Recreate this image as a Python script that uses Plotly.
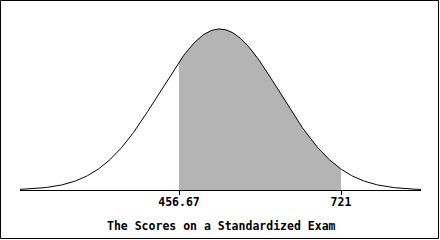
import numpy as np
import plotly.graph_objects as go

# Distribution parameters
mean_score = 523.0
sd_score = 98.0
x_min, x_max = 197.25, 851.5
shade_low, shade_high = 456.67, 721.0
tick_values = [456.67, 721]
tick_labels = ["456.67", "721"]
title_text = "The Scores on a Standardized Exam"

def pdf(v):
    return np.exp(-0.5 * ((v - mean_score) / sd_score) ** 2) / (sd_score * np.sqrt(2 * np.pi))

xs = np.linspace(x_min, x_max, 400)
ys = pdf(xs)
xs_shade = np.linspace(shade_low, shade_high, 200)
ys_shade = pdf(xs_shade)
peak = pdf(mean_score)

L, R, T, B = 20, 19, 20, 50
W, H = 440, 240
pw = W - L - R
ph = H - T - B

fig = go.Figure()
fig.add_trace(go.Scatter(x=xs_shade, y=ys_shade, fill="tozeroy", mode="lines",
                         line=dict(width=0, color="#b4b4b4"), fillcolor="#b4b4b4",
                         hoverinfo="skip", showlegend=False))
fig.add_trace(go.Scatter(x=xs, y=ys, mode="lines", line=dict(width=1, color="black"),
                         hoverinfo="skip", showlegend=False))

font = dict(family="DejaVu Sans Mono", size=11.5, color="black")

fig.update_layout(
    width=W, height=H,
    margin=dict(l=L, r=R, t=T, b=B),
    paper_bgcolor="white", plot_bgcolor="white",
    xaxis=dict(range=[x_min, x_max], showgrid=False, zeroline=False,
               showline=True, linecolor="black", linewidth=1,
               tickmode="array", tickvals=tick_values, ticktext=["<b>%s</b>" % t for t in tick_labels],
               ticks="outside", ticklen=4, tickcolor="black", tickwidth=1,
               ticklabelstandoff=-3,
               tickfont=font),
    yaxis=dict(range=[0, peak * ph / 161.0], visible=False, showgrid=False, zeroline=False),
    annotations=[dict(text="<b>%s</b>" % title_text, xref="paper", yref="paper",
                      x=(221 - L) / pw, y=(T + ph - 226.5) / ph, xanchor="center", yanchor="middle",
                      showarrow=False, font=font)],
    shapes=[dict(type="rect", xref="paper", yref="paper",
                 x0=(0.5 - L) / pw, x1=(438.5 - L) / pw,
                 y0=(T + ph - 238.5) / ph, y1=(T + ph - 0.5) / ph,
                 line=dict(color="black", width=1), fillcolor="rgba(0,0,0,0)")],
)

fig.write_html("out.html")
